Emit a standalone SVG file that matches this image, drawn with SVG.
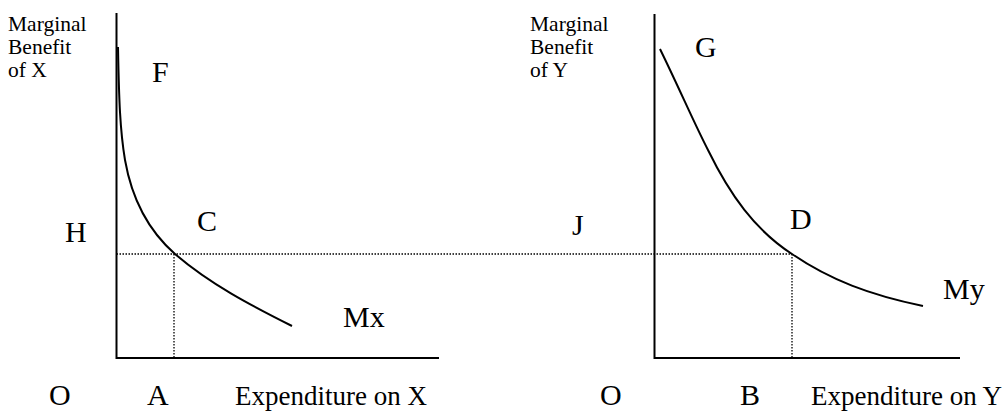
<svg xmlns="http://www.w3.org/2000/svg" width="1003" height="412" viewBox="0 0 1003 412">
<style>
.ax{stroke:#000;stroke-width:2;fill:none}
.cv{stroke:#000;stroke-width:2;fill:none}
.dt{stroke:#000;stroke-width:1.3;stroke-dasharray:1.5 1.5;fill:none}
text{font-family:'Liberation Serif','Times New Roman',Times,serif;fill:#000}
.big{font-size:30px}
.mid{font-size:27px}
.sm{font-size:21.5px}
</style>
<rect width="1003" height="412" fill="#fff"/>
<g id="connectors">
<path class="ax" d="M116.5,13 V358 H439"/>
<path class="ax" d="M654.5,14 V358 H960"/>
<path class="dt" d="M116.5,254 H792"/>
<path class="dt" d="M174,254 V357"/>
<path class="dt" d="M792,254 V357"/>
<path class="cv" d="M118,47 C119,100 120,130 125,160 C132,200 150,232 175,254 C210,284 250,305 292,326"/>
<path class="cv" d="M660,49 C680,90 695,125 708,150 C730,195 755,230 792,254 C830,280 870,295 923,306"/>
</g>
<g id="ylabel-x"><text class="sm" x="8" y="31">Marginal</text><text class="sm" x="8" y="54">Benefit</text><text class="sm" x="8" y="77">of X</text></g>
<g id="ylabel-y"><text class="sm" x="530" y="31">Marginal</text><text class="sm" x="530" y="54">Benefit</text><text class="sm" x="530" y="77">of Y</text></g>
<g id="F"><text class="big" x="152" y="82">F</text></g>
<g id="G"><text class="big" x="695" y="57">G</text></g>
<g id="H"><text class="big" x="65" y="242">H</text></g>
<g id="C"><text class="big" x="197" y="231">C</text></g>
<g id="J"><text class="big" x="572" y="235">J</text></g>
<g id="D"><text class="big" x="790" y="229">D</text></g>
<g id="Mx"><text class="big" x="343" y="327">Mx</text></g>
<g id="My"><text class="big" x="943" y="299">My</text></g>
<g id="O1"><text class="big" x="49" y="405">O</text></g>
<g id="A"><text class="big" x="147" y="405">A</text></g>
<g id="O2"><text class="big" x="600" y="405">O</text></g>
<g id="B"><text class="big" x="740" y="405">B</text></g>
<g id="xlabel-x"><text class="mid" x="235" y="405">Expenditure on X</text></g>
<g id="xlabel-y"><text class="mid" x="811" y="405">Expenditure on Y</text></g>
</svg>
